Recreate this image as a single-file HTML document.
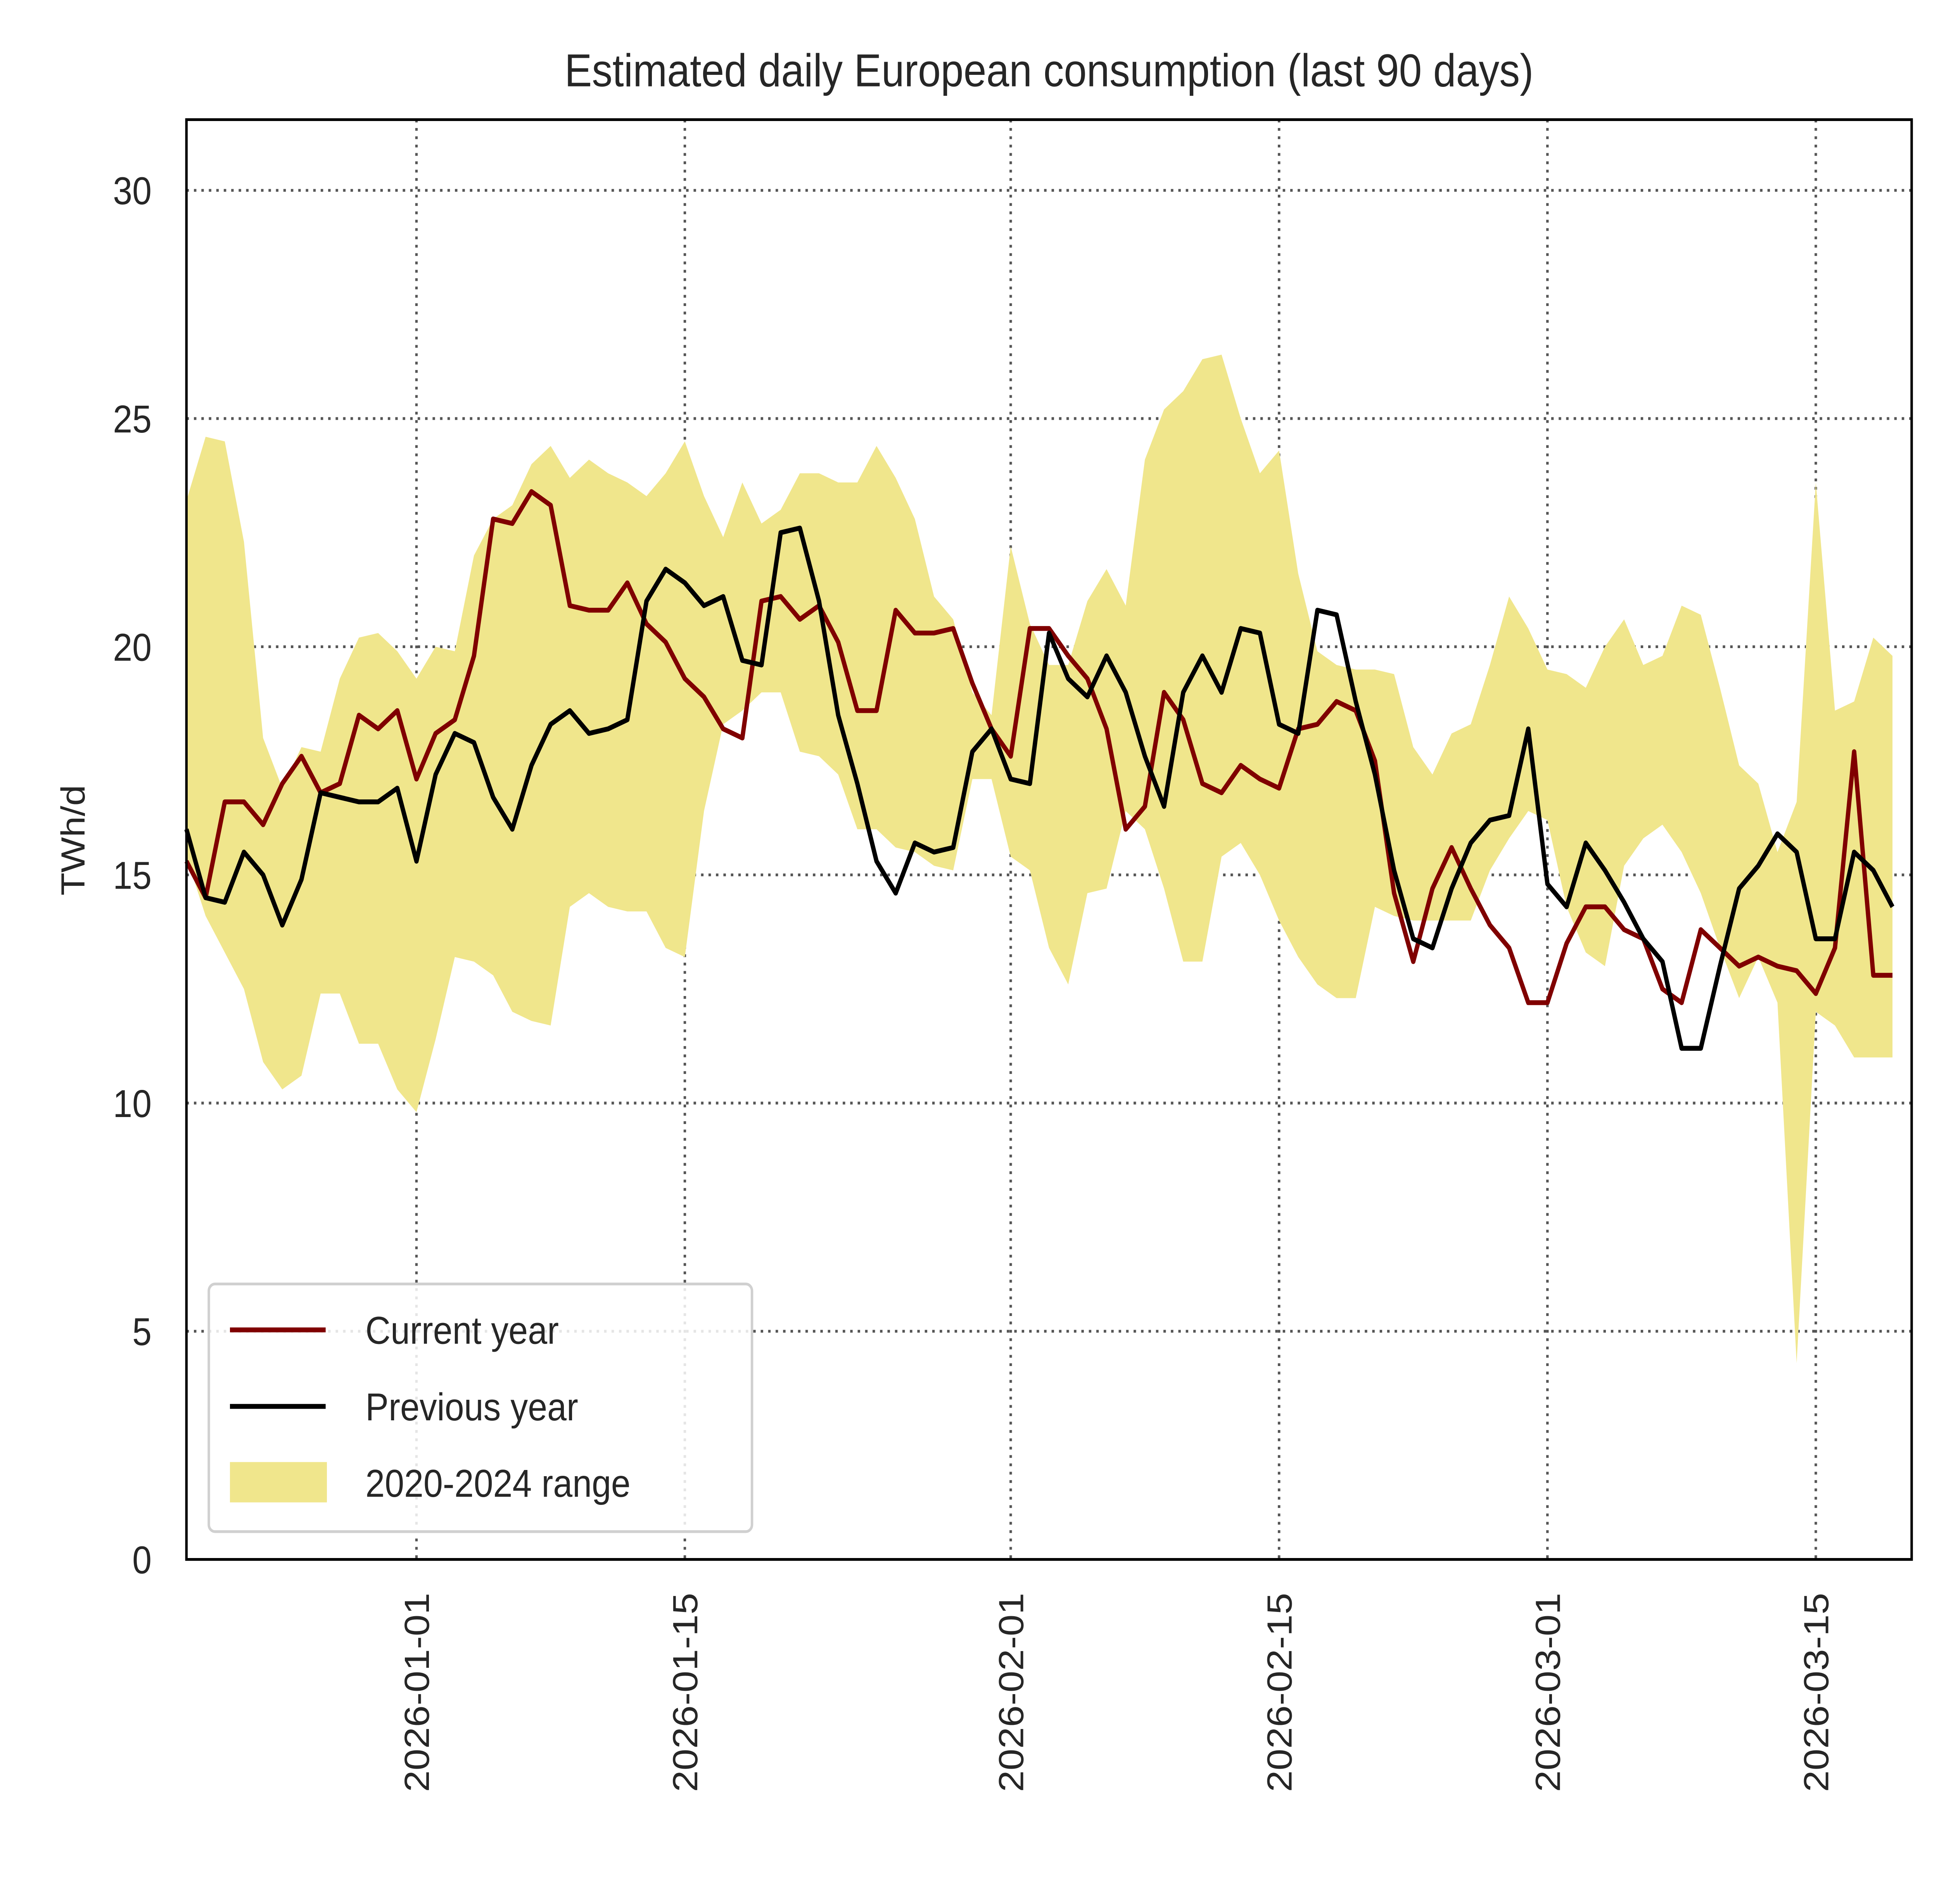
<!DOCTYPE html>
<html><head><meta charset="utf-8"><style>
html,body{margin:0;padding:0;background:#fff;width:100%;height:100%;overflow:hidden}
svg#chart{display:block;position:fixed;left:0;top:0;width:100vw;height:100vh}
text{font-family:"Liberation Sans",Arial,sans-serif;fill:#262626}
</style></head><body>
<svg id="chart" viewBox="0 0 1560 1368.7" preserveAspectRatio="none" xmlns="http://www.w3.org/2000/svg">
<rect width="1560" height="1368.7" fill="#fff"/>
<text x="844" y="62" font-size="33" text-anchor="middle">Estimated daily European consumption (last 90 days)</text>
<text transform="translate(68,604) rotate(-90)" font-size="27" text-anchor="middle">TWh/d</text>
<g id="grid"></g>
<g id="band"></g>
<g id="lines"></g>
<rect x="150" y="86" width="1388" height="1035" fill="none" stroke="#000" stroke-width="2"/>
<g id="ticks"></g>
<g>
<rect x="168" y="923" width="437" height="178" rx="5" fill="#fff" fill-opacity="0.85" stroke="#d0d0d0" stroke-width="2"/>
<line x1="185" y1="956" x2="262" y2="956" stroke="#800000" stroke-width="3.5"/>
<text x="294" y="966" font-size="28">Current year</text>
<line x1="185" y1="1011" x2="262" y2="1011" stroke="#000" stroke-width="3.5"/>
<text x="294" y="1021" font-size="28">Previous year</text>
<rect x="185" y="1051" width="78" height="29" fill="#f0e68c"/>
<text x="294" y="1076" font-size="28">2020-2024 range</text>
</g>
</svg>
<script>
const startOffset = -12; // first point = 2025-12-20 (days from 2026-01-01)
const current = [15.3,14.5,16.6,16.6,16.1,17.0,17.6,16.8,17.0,18.5,18.2,18.6,17.1,18.1,18.4,19.8,22.8,22.7,23.4,23.1,20.9,20.8,20.8,21.4,20.5,20.1,19.3,18.9,18.2,18.0,21.0,21.1,20.6,20.9,20.1,18.6,18.6,20.8,20.3,20.3,20.4,19.2,18.2,17.6,20.4,20.4,19.8,19.3,18.2,16.0,16.5,19.0,18.4,17.0,16.8,17.4,17.1,16.9,18.2,18.3,18.8,18.6,17.5,14.6,13.1,14.7,15.6,14.7,13.9,13.4,12.2,12.2,13.5,14.3,14.3,13.8,13.6,12.5,12.2,13.8,13.4,13.0,13.2,13.0,12.9,12.4,13.4,17.7,12.8,12.8];
const previous = [16.0,14.5,14.4,15.5,15.0,13.9,14.9,16.8,16.7,16.6,16.6,16.9,15.3,17.2,18.1,17.9,16.7,16.0,17.4,18.3,18.6,18.1,18.2,18.4,21.0,21.7,21.4,20.9,21.1,19.7,19.6,22.5,22.6,21.0,18.5,17.0,15.3,14.6,15.7,15.5,15.6,17.7,18.2,17.1,17.0,20.3,19.3,18.9,19.8,19.0,17.6,16.5,19.0,19.8,19.0,20.4,20.3,18.3,18.1,20.8,20.7,18.8,17.2,15.1,13.6,13.4,14.7,15.7,16.2,16.3,18.2,14.8,14.3,15.7,15.1,14.4,13.6,13.1,11.2,11.2,13.0,14.7,15.2,15.9,15.5,13.6,13.6,15.5,15.1,14.3];
const rangeMax = [23.2,24.6,24.5,22.3,18.0,16.9,17.8,17.7,19.3,20.2,20.3,19.9,19.3,20.0,19.9,22.0,22.8,23.1,24.0,24.4,23.7,24.1,23.8,23.6,23.3,23.8,24.5,23.3,22.4,23.6,22.7,23.0,23.8,23.8,23.6,23.6,24.4,23.7,22.8,21.1,20.6,19.0,18.5,22.2,20.5,19.6,19.6,21.0,21.7,20.9,24.1,25.2,25.6,26.3,26.4,25.0,23.8,24.3,21.6,19.9,19.6,19.5,19.5,19.4,17.8,17.2,18.1,18.3,19.6,21.1,20.4,19.5,19.4,19.1,20.0,20.6,19.6,19.8,20.9,20.7,19.1,17.4,17.0,15.5,16.6,23.6,18.6,18.8,20.2,19.8];
const rangeMin = [15.4,14.1,13.3,12.5,10.9,10.3,10.6,12.4,12.4,11.3,11.3,10.3,9.8,11.4,13.2,13.1,12.8,12.0,11.8,11.7,14.3,14.6,14.3,14.2,14.2,13.4,13.2,16.4,18.3,18.6,19.0,19.0,17.7,17.6,17.2,16.0,16.0,15.6,15.5,15.2,15.1,17.1,17.1,15.4,15.1,13.4,12.6,14.6,14.7,16.4,16.0,14.7,13.1,13.1,15.4,15.7,15.0,14.0,13.2,12.6,12.3,12.3,14.3,14.1,14.0,14.0,14.0,14.0,15.1,15.8,16.4,16.2,14.3,13.3,13.0,15.2,15.8,16.1,15.5,14.6,13.4,12.3,13.2,12.2,4.3,12.0,11.7,11.0,11.0,11.0];
const yTicks = [0,5,10,15,20,25,30];
const xTickLabels = ["2026-01-01","2026-01-15","2026-02-01","2026-02-15","2026-03-01","2026-03-15"];
const xTickDays = [0,14,31,45,59,73];

const NS="http://www.w3.org/2000/svg";
const X0=150,X1=1538,Y0=1121,Y1=86;
const dMin=-12,dMax=78,vMin=0,vMax=31.55;
const xs=d=>X0+(d-dMin)/(dMax-dMin)*(X1-X0);
const ys=v=>Y0-(v-vMin)/(vMax-vMin)*(Y0-Y1);
function mk(tag,attrs,parent){const e=document.createElementNS(NS,tag);for(const k in attrs)e.setAttribute(k,attrs[k]);parent.appendChild(e);return e;}
const grid=document.getElementById('grid'),ticks=document.getElementById('ticks'),band=document.getElementById('band'),lines=document.getElementById('lines');
yTicks.forEach(v=>{
  if(v>0){const g=mk('line',{x1:X0,x2:X1,y1:ys(v),y2:ys(v),stroke:'#555','stroke-width':2,'stroke-dasharray':'2,4'},grid);
  
  }
  const t=mk('text',{x:122,y:ys(v)+10,'font-size':28,'text-anchor':'end'},ticks);t.textContent=v;
  
  
});
xTickDays.forEach((d,i)=>{
  const g=mk('line',{x1:xs(d),x2:xs(d),y1:Y1,y2:Y0,stroke:'#555','stroke-width':2,'stroke-dasharray':'2,4'},grid);
  
  
  const t=mk('text',{transform:`translate(${xs(d)+10},1145) rotate(-90)`,'font-size':28,'text-anchor':'end'},ticks);t.textContent=xTickLabels[i];
  
  
});
let p=rangeMax.map((v,i)=>`${xs(startOffset+i)},${ys(v)}`);
for(let i=rangeMin.length-1;i>=0;i--)p.push(`${xs(startOffset+i)},${ys(rangeMin[i])}`);
const poly=mk('polygon',{points:p.join(' '),fill:'#f0e68c'},band);


function line(arr,color,name){
  const l=mk('polyline',{points:arr.map((v,i)=>`${xs(startOffset+i)},${ys(v)}`).join(' '),fill:'none',stroke:color,'stroke-width':3.5,'stroke-linejoin':'round'},lines);
  
  
}
line(current,'#800000','current-year-line');
line(previous,'#000','previous-year-line');
</script>
</body></html>
